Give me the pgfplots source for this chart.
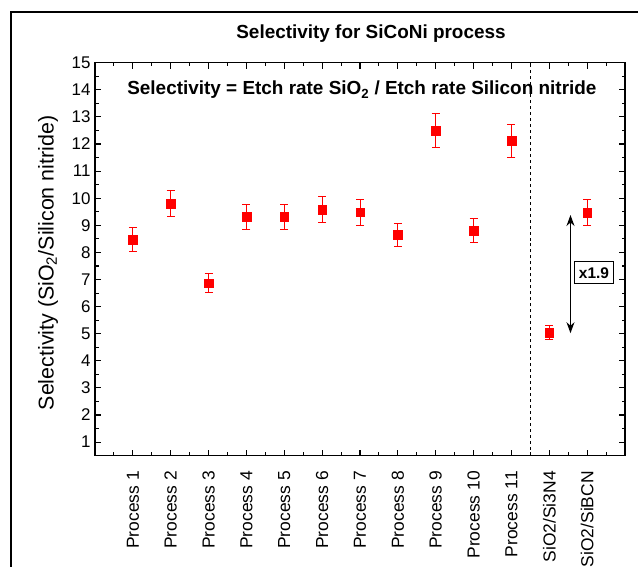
\documentclass[border=0pt]{standalone}
\usepackage{fontspec}
\setmainfont{Liberation Sans}
\usepackage{pgfplots}
\usepackage{pgfplotstable}
\pgfplotsset{compat=1.18}
\usetikzlibrary{arrows.meta}

\pgfplotstableread{
x y e
1 8.48 0.43
2 9.80 0.49
3 6.86 0.35
4 9.31 0.47
5 9.32 0.46
6 9.58 0.48
7 9.48 0.47
8 8.65 0.43
9 12.50 0.62
10 8.80 0.44
11 12.12 0.60
12 5.04 0.25
13 9.47 0.47
}\datatable

\begin{document}
\begin{tikzpicture}
\path[use as bounding box] (0bp,0bp) rectangle (638bp,567bp);
\draw[line width=2bp] (11bp,0bp) -- (11bp,555bp) -- (638bp,555bp);
\node[font=\fontsize{19}{22}\selectfont\bfseries] at (371bp,533bp) {Selectivity for SiCoNi process};
\node[rotate=90, font=\fontsize{21.5}{25}\selectfont] at (48bp,304bp) {Selectivity (SiO\textsubscript{2}/Silicon nitride)};
\begin{axis}[
  at={(95bp,111.3bp)}, anchor=south west,
  scale only axis, width=530bp, height=393bp,
  xmin=0, xmax=14, ymin=0.5, ymax=15,
  xtick={1,...,13},
  xticklabels={Process 1,Process 2,Process 3,Process 4,Process 5,Process 6,Process 7,Process 8,Process 9,Process 10,Process 11,SiO2/Si3N4,SiO2/SiBCN},
  minor xtick={0.5,1.5,...,13.5},
  ytick={1,...,15},
  minor ytick={1.5,2.5,...,14.5},
  xtick align=inside, ytick align=inside,
  xtick pos=both, ytick pos=both,
  major tick length=6bp, minor tick length=3.5bp,
  axis line style={line width=1.3bp},
  major tick style={draw=black, line width=1.1bp},
  minor tick style={draw=black, line width=1.1bp},
  /pgf/number format/assume math mode=true,
  yticklabel style={font=\fontsize{17}{20}\selectfont, xshift=-1bp},
  xticklabel style={font=\fontsize{17.5}{20}\selectfont, rotate=90, anchor=east, xshift=-12bp},
  clip=false,
]
% inward tick marks on all four sides, in axis units
\pgfplotsinvokeforeach{1,...,15}{
  \draw[black, line width=1.1bp] (axis cs:0,#1) -- (axis cs:0.16,#1);
  \draw[black, line width=1.1bp] (axis cs:14,#1) -- (axis cs:13.84,#1);
}
\pgfplotsinvokeforeach{1.5,2.5,...,14.5}{
  \draw[black, line width=1.1bp] (axis cs:0,#1) -- (axis cs:0.092,#1);
  \draw[black, line width=1.1bp] (axis cs:14,#1) -- (axis cs:13.908,#1);
}
\pgfplotsinvokeforeach{1,...,13}{
  \draw[black, line width=1.1bp] (axis cs:#1,0.5) -- (axis cs:#1,0.72);
  \draw[black, line width=1.1bp] (axis cs:#1,15) -- (axis cs:#1,14.78);
}
\pgfplotsinvokeforeach{0.5,1.5,...,13.5}{
  \draw[black, line width=1.1bp] (axis cs:#1,0.5) -- (axis cs:#1,0.63);
  \draw[black, line width=1.1bp] (axis cs:#1,15) -- (axis cs:#1,14.87);
}
\addplot[only marks, mark=square*, mark size=4.3bp, color=red,
  mark options={draw=red, fill=red},
  error bars/.cd, y dir=both, y explicit,
  error bar style={color=red, line width=0.9bp},
  error mark options={rotate=90, mark size=4bp, color=red, line width=0.9bp}]
  table[x=x, y=y, y error=e] {\datatable};
\draw[dashed, line width=0.8bp] (axis cs:11.5,0.5) -- (axis cs:11.5,15);
\draw[{Stealth[length=11bp,width=8bp]}-{Stealth[length=11bp,width=8bp]}, line width=1.3bp] (axis cs:12.56,9.38) -- (axis cs:12.56,5.02);
\node[draw, fill=white, line width=0.9bp, font=\fontsize{15.5}{18}\selectfont\bfseries, inner sep=4bp, minimum height=22bp] at (axis cs:13.18,7.25) {x1.9};
\node[font=\fontsize{19}{22}\selectfont\bfseries] at (axis cs:7.05,14.0) {Selectivity = Etch rate SiO\textsubscript{2} / Etch rate Silicon nitride};
\end{axis}
\end{tikzpicture}
\end{document}
